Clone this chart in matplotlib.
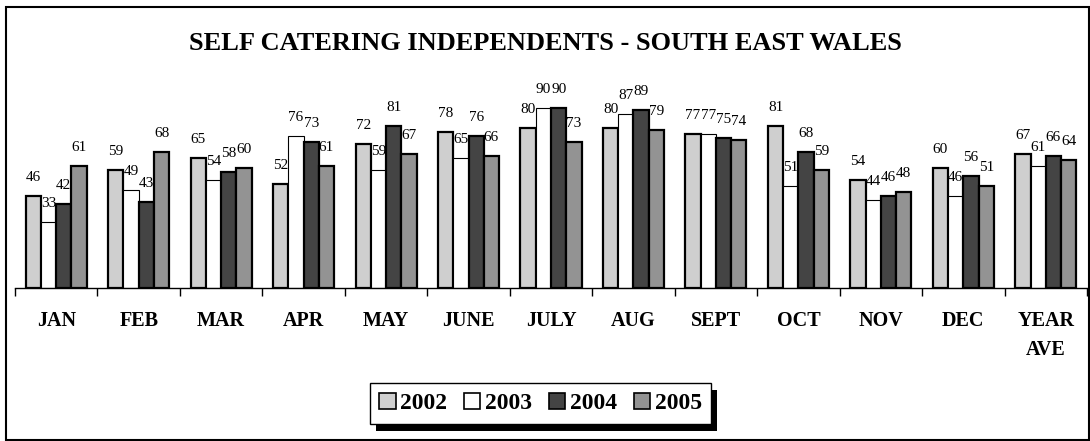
import matplotlib
matplotlib.use("Agg")
import matplotlib.pyplot as plt
from matplotlib.patches import Patch, Rectangle
from matplotlib.transforms import IdentityTransform
import numpy as np

plt.rcParams["font.family"] = ["Liberation Serif", "DejaVu Serif"]

# --- data -------------------------------------------------------------
months = ["JAN", "FEB", "MAR", "APR", "MAY", "JUNE", "JULY", "AUG",
          "SEPT", "OCT", "NOV", "DEC", "YEAR\nAVE"]
years = ["2002", "2003", "2004", "2005"]
occ_2002 = [46, 59, 65, 52, 72, 78, 80, 80, 77, 81, 54, 60, 67]
occ_2003 = [33, 49, 54, 76, 59, 65, 90, 87, 77, 51, 44, 46, 61]
occ_2004 = [42, 43, 58, 73, 81, 76, 90, 89, 75, 68, 46, 56, 66]
occ_2005 = [61, 68, 60, 61, 67, 66, 73, 79, 74, 59, 48, 51, 64]
title = "SELF CATERING INDEPENDENTS - SOUTH EAST WALES"

series = [occ_2002, occ_2003, occ_2004, occ_2005]
colors = ["#cfcfcf", "#ffffff", "#444444", "#939393"]
edge_w = [1.6, 0.8, 1.6, 1.6]

# --- figure -----------------------------------------------------------
W, H = 1090, 441
fig = plt.figure(figsize=(W / 100, H / 100), dpi=100)
fig.patch.set_facecolor("white")

ax = fig.add_axes([15 / W, 153 / H, 1072 / W, 200.5 / H])
x = np.arange(len(months))
bw = 0.185

for j, (vals, col, lw) in enumerate(zip(series, colors, edge_w)):
    pos = x + (j - 1.5) * bw
    ax.bar(pos, vals, bw, color=col, edgecolor="black", linewidth=lw,
           zorder=2)
    for px, v in zip(pos, vals):
        ax.annotate(str(v), (px, v), xytext=(0, 14.5),
                    textcoords="offset pixels", ha="center", va="baseline",
                    fontsize=11, zorder=5)

ax.set_xlim(-0.5, len(months) - 0.5)
ax.set_ylim(0, 100)
for s in ("top", "left", "right"):
    ax.spines[s].set_visible(False)
ax.spines["bottom"].set_linewidth(1.0)
ax.set_yticks([])
ax.set_xticks(x)
ax.set_xticklabels(months, fontweight="bold", fontsize=14.5, linespacing=1.6)
ax.tick_params(axis="x", which="major", length=0, pad=16.5)
ax.set_xticks(np.arange(-0.5, len(months)), minor=True)
ax.tick_params(axis="x", which="minor", length=6, width=1.0,
               direction="out", color="black")

fig.text(0.5, (H - 50) / H, title, ha="center", va="baseline",
         fontsize=19, fontweight="bold")

# outer border of the chart
fig.add_artist(Rectangle((6 / W, 1 / H), 1082.5 / W, 433 / H, fill=False,
                         edgecolor="black", linewidth=1.5,
                         transform=fig.transFigure))

handles = [Patch(facecolor=c, edgecolor="black", linewidth=1.2)
           for c in colors]
leg = fig.legend(handles, years, loc="center",
                 bbox_to_anchor=(540.5 / W, (H - 403.5) / H), ncol=4,
                 prop={"weight": "bold", "size": 17},
                 handlelength=0.7, handleheight=0.7, handletextpad=0.2,
                 columnspacing=0.7, borderpad=0.4, borderaxespad=0,
                 frameon=True, fancybox=False, edgecolor="black",
                 framealpha=1)
leg.get_frame().set_linewidth(1.0)
leg.set_zorder(5)

# drop shadow behind the legend box
fig.canvas.draw()
bb = leg.get_window_extent()
fig.add_artist(Rectangle((bb.x0 + 6, bb.y0 - 7), bb.width, bb.height,
                         facecolor="black", edgecolor="none",
                         transform=IdentityTransform(), zorder=4))

fig.savefig("out.png", dpi=100, facecolor="white")
